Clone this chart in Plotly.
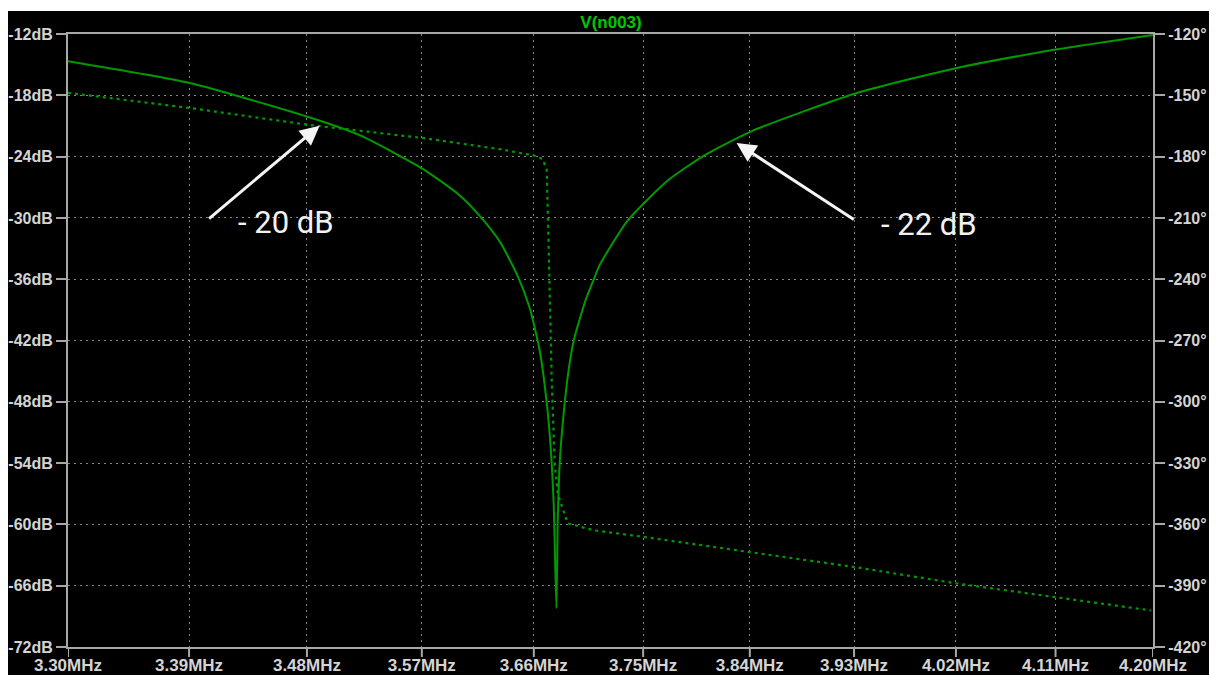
import math
import plotly.graph_objects as go

# ---- data ----
freq_mag_mhz = [3.300, 3.3904, 3.4805, 3.5210, 3.5707, 3.6002, 3.6162, 3.6323, 3.6469,
                3.6566, 3.6648, 3.6713, 3.6743, 3.6762, 3.6784, 3.6795,
                3.6811, 3.6833, 3.6877, 3.6926, 3.7025, 3.7085, 3.7140, 3.7369, 3.7555,
                3.7721, 3.8011, 3.8417, 3.9318, 4.0218, 4.1117, 4.200]
mag_db = [-14.67, -16.8, -20.1, -21.9, -25.2, -27.8, -29.8, -32.3, -35.7,
          -38.8, -43.0, -49.0, -53.5, -58.0, -68.2, -59.6,
          -54.0, -50.5, -45.5, -42.0, -38.0, -36.2, -34.6, -30.3, -28.0,
          -26.2, -23.9, -21.5, -17.8, -15.3, -13.5, -12.1]

freq_phase_mhz = [3.300, 3.3904, 3.4805, 3.5707, 3.6347, 3.6607, 3.6672, 3.6705, 3.6721,
                  3.6746, 3.6770, 3.6795, 3.6877, 3.7091, 3.7514, 3.8408, 3.9307, 4.0218,
                  4.1117, 4.198]
phase_deg = [-148.8, -156.2, -164.4, -170.9, -176.6, -179.6, -181.2, -186.4, -225.0,
             -290.0, -330.0, -345.0, -359.5, -362.9, -366.2, -373.5, -380.9, -389.0,
             -395.6, -402.1]

x_tick_mhz = [3.30, 3.39, 3.48, 3.57, 3.66, 3.75, 3.84, 3.93, 4.02, 4.11, 4.20]
x_tick_labels = ["3.30MHz", "3.39MHz", "3.48MHz", "3.57MHz", "3.66MHz", "3.75MHz",
                 "3.84MHz", "3.93MHz", "4.02MHz", "4.11MHz", "4.20MHz"]
db_ticks = [-72, -66, -60, -54, -48, -42, -36, -30, -24, -18, -12]
db_labels = ["-72dB", "-66dB", "-60dB", "-54dB", "-48dB", "-42dB", "-36dB",
             "-30dB", "-24dB", "-18dB", "-12dB"]
deg_ticks = [-420, -390, -360, -330, -300, -270, -240, -210, -180, -150, -120]
deg_labels = ["-420°", "-390°", "-360°", "-330°", "-300°", "-270°", "-240°",
              "-210°", "-180°", "-150°", "-120°"]

title_text = "V(n003)"
note_labels = ["- 20 dB", "- 22 dB"]
note_head_mhz = [3.4898, 3.8287]
note_head_db = [-20.97, -22.67]
note_tail_mhz = [3.4040, 3.9311]
note_tail_db = [-30.19, -30.25]
note_text_mhz = [3.4635, 3.9959]
note_text_db = [-30.48, -30.68]

# ---- styling ----
GREEN = "#009a00"
AXIS = "#a8a8a8"
GRID = "#858585"
YFONT = dict(family="Liberation Sans", size=16, color="#d4d4d4", weight="bold")
XFONT = dict(family="Liberation Sans", size=17, color="#d4d4d4", weight="bold")
PLOT_H = 613  # plot-area height in px (for converting tick length to paper units)

fig = go.Figure()
fig.add_trace(go.Scatter(x=freq_mag_mhz, y=mag_db, mode="lines",
                         line=dict(color=GREEN, width=2, shape="spline", smoothing=0.6),
                         yaxis="y", showlegend=False, hoverinfo="skip"))
fig.add_trace(go.Scatter(x=freq_phase_mhz, y=phase_deg, mode="lines",
                         line=dict(color=GREEN, width=2.2, dash="3px,4px"), yaxis="y2",
                         showlegend=False, hoverinfo="skip"))

annotations = []
for hx, hy, tx, ty in zip(note_head_mhz, note_head_db, note_tail_mhz, note_tail_db):
    annotations.append(dict(x=math.log10(hx), y=hy, xref="x", yref="y",
                            ax=math.log10(tx), ay=ty, axref="x", ayref="y",
                            text="", showarrow=True, arrowhead=2, arrowsize=1.3,
                            arrowwidth=3, arrowcolor="#f4f4f4"))
for lab, tx, ty in zip(note_labels, note_text_mhz, note_text_db):
    annotations.append(dict(x=math.log10(tx), y=ty, xref="x", yref="y", text=lab,
                            showarrow=False, xanchor="center", yanchor="middle",
                            font=dict(family="Roboto", size=31, color="#f2f2f2")))

shapes = [dict(type="rect", xref="paper", yref="paper",
               x0=-0.1, x1=1.1, y0=1 + 23 / PLOT_H, y1=1 + 30 / PLOT_H,
               fillcolor="white", line=dict(width=0), layer="above")]
# outside tick marks on the frequency axis (drawn at the tick values)
for v in x_tick_mhz:
    shapes.append(dict(type="line", xref="x", yref="paper", x0=v, x1=v,
                       y0=0, y1=-10 / PLOT_H, line=dict(color=AXIS, width=2),
                       layer="above"))

# The page body adds an 8 px white border at top/left; the figure fills the rest.
fig.update_layout(
    width=1209, height=667,
    margin=dict(l=60, r=64, t=26, b=28, autoexpand=False),
    paper_bgcolor="black", plot_bgcolor="black",
    title=dict(text=title_text, x=0.5005, xanchor="center", y=1 - 14.5 / 667,
               yanchor="middle", xref="paper", yref="container",
               font=dict(family="Liberation Sans", size=17, color="#00c800", weight="bold")),
    xaxis=dict(type="log", range=[math.log10(3.30), math.log10(4.20)],
               tickmode="array", tickvals=x_tick_mhz, ticktext=x_tick_labels,
               showline=True, linecolor=AXIS, linewidth=2, mirror=True,
               ticks="", ticklabelstandoff=2,
               showgrid=True, gridcolor=GRID, gridwidth=1, griddash="2px,4px",
               tickfont=XFONT, zeroline=False, fixedrange=True, automargin=False),
    yaxis=dict(range=[-72, -12], tickmode="array", tickvals=db_ticks, ticktext=db_labels,
               showline=True, linecolor=AXIS, linewidth=2, mirror=True,
               ticks="outside", ticklen=10, tickcolor=AXIS, tickwidth=2,
               showgrid=True, gridcolor=GRID, gridwidth=1, griddash="2px,4px",
               tickfont=YFONT, zeroline=False, fixedrange=True, automargin=False),
    yaxis2=dict(range=[-420, -120], overlaying="y", side="right",
                tickmode="array", tickvals=deg_ticks, ticktext=deg_labels,
                showline=True, linecolor=AXIS, linewidth=2,
                ticks="outside", ticklen=10, tickcolor=AXIS, tickwidth=2,
                showgrid=False, tickfont=YFONT, zeroline=False, fixedrange=True,
                automargin=False),
    annotations=annotations,
    shapes=shapes,
)

fig.write_html("out.html")
